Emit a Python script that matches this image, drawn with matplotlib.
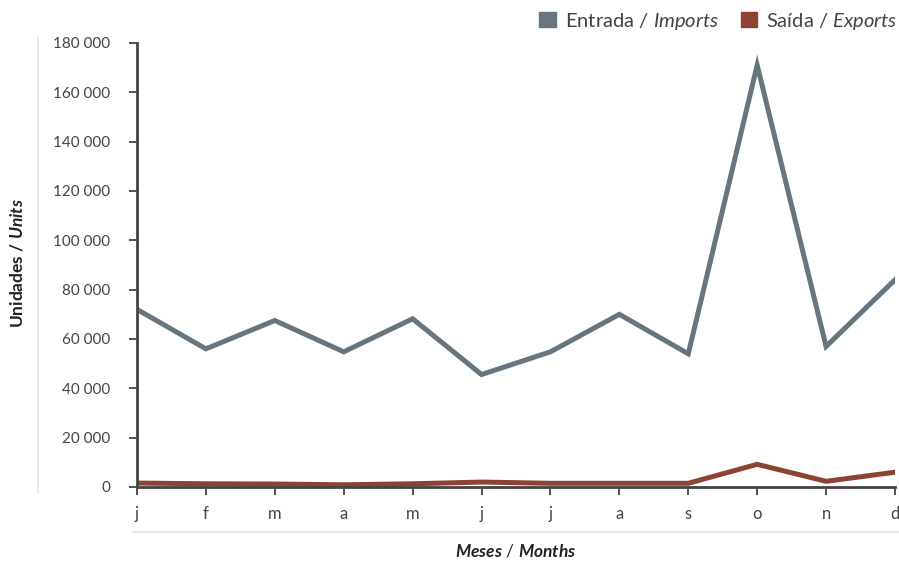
import numpy as np
import matplotlib
matplotlib.use("Agg")
import matplotlib.pyplot as plt
from matplotlib.ticker import FuncFormatter, MultipleLocator
from matplotlib.lines import Line2D
from matplotlib.patches import Patch

# monthly values (units)
months = ["j", "f", "m", "a", "m", "j", "j", "a", "s", "o", "n", "d"]
imports = [72000, 56000, 67500, 54800, 68200, 45600, 54800, 70000, 54000, 171000, 57000, 84000]
exports = [1600, 1300, 1200, 900, 1300, 2000, 1500, 1500, 1500, 9200, 2300, 6000]

c_imp = "#67757e"
c_exp = "#8c4333"
txt = "#444444"

plt.rcParams["font.family"] = ["Lato", "DejaVu Sans"]
plt.rcParams["mathtext.fontset"] = "custom"
plt.rcParams["mathtext.rm"] = "Lato"
plt.rcParams["mathtext.it"] = "Lato:italic"
plt.rcParams["mathtext.bf"] = "Lato:bold"
plt.rcParams["mathtext.bfit"] = "Lato:bold:italic"

fig = plt.figure(figsize=(8.99, 5.62), dpi=100)
ax = fig.add_axes([137 / 899, 1 - 487 / 562, (895 - 137) / 899, (487 - 43) / 562])

x = np.arange(len(months))
ax.plot(x, imports, color=c_imp, lw=3.6, solid_joinstyle="miter")
ax.plot(x, exports, color=c_exp, lw=3.6, solid_joinstyle="miter")

ax.set_xlim(0, 11)
ax.set_ylim(0, 180000)
ax.yaxis.set_major_locator(MultipleLocator(20000))
ax.yaxis.set_major_formatter(FuncFormatter(lambda v, p: f"{int(v):,}".replace(",", " ")))
ax.set_xticks(x)
ax.set_xticklabels(months)

for s in ["top", "right"]:
    ax.spines[s].set_visible(False)
for s in ["left", "bottom"]:
    ax.spines[s].set_color("#444444")
    ax.spines[s].set_linewidth(2)
ax.tick_params(axis="both", colors="#444444", labelcolor=txt, labelsize=11,
               length=5.5, width=1.3)
ax.tick_params(axis="y", pad=14)
ax.tick_params(axis="x", pad=8, labelsize=12)

fig.text(17 / 899, 1 - 263 / 562, r"Unidades / $\mathbfit{Units}$", rotation=90,
         ha="center", va="center", fontsize=12.5, fontweight="bold", color="#222222")
fig.text(516 / 899, 1 - 551 / 562, r"$\mathbfit{Meses}$ / $\mathbfit{Months}$",
         ha="center", va="center", fontsize=12.5, color="#222222")

# light guide lines
fig.add_artist(Line2D([38 / 899, 38 / 899], [1 - 38 / 562, 1 - 493 / 562],
                      color="#e6e6e6", lw=1.2))
fig.add_artist(Line2D([133 / 899, 899 / 899], [1 - 532 / 562, 1 - 532 / 562],
                      color="#e6e6e6", lw=1.5))

handles = [Patch(color=c_imp), Patch(color=c_exp)]
labels = [r"Entrada / $\it{Imports}$", r"Saída / $\it{Exports}$"]
fig.legend(handles, labels, loc="center right", bbox_to_anchor=(0.998, 1 - 21 / 562),
           ncol=2, frameon=False, fontsize=14.5, handlelength=0.8, handleheight=0.8,
           handletextpad=0.45, columnspacing=1.1, labelcolor=txt, borderpad=0,
           borderaxespad=0)

fig.savefig("out.png", dpi=100)
